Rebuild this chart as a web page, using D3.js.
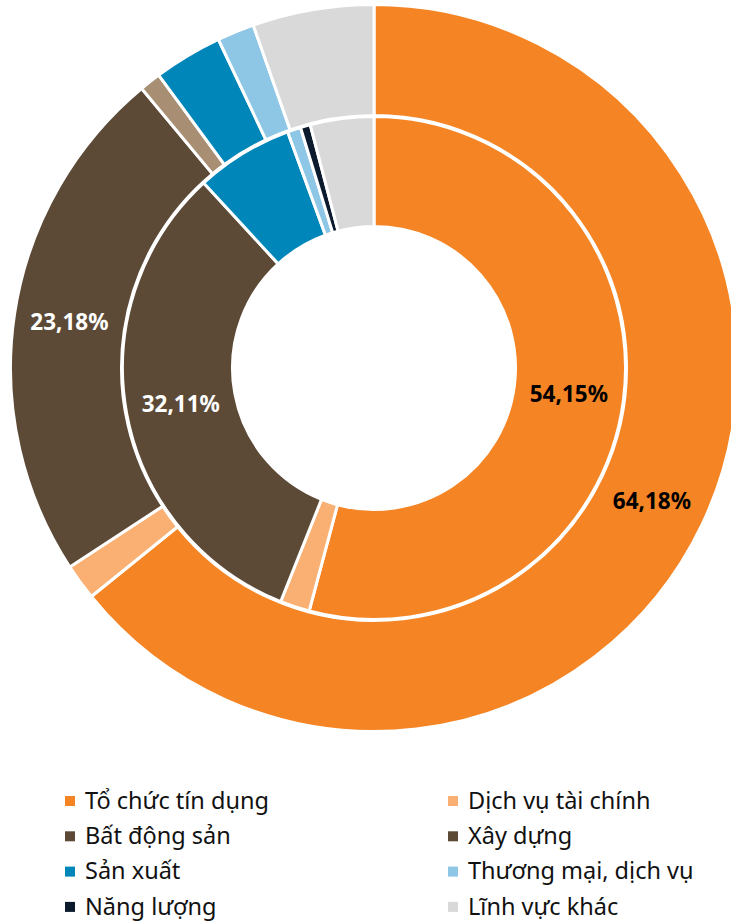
<!DOCTYPE html>
<html>
<head>
<meta charset="utf-8">
<script src="https://cdn.jsdelivr.net/npm/d3@7"></script>
<style>
  body { margin: 0; background: #fff; }
  svg { display: block; font-family: "Noto Sans", "Open Sans", sans-serif; }
</style>
</head>
<body>
<div id="area"></div>
<script>
// categories, in legend order
var categories = ["Tổ chức tín dụng", "Dịch vụ tài chính", "Bất động sản", "Xây dựng",
    "Sản xuất", "Thương mại, dịch vụ", "Năng lượng", "Lĩnh vực khác"];
// outer ring and inner ring shares (%)
var outerValues = [64.18, 1.60, 23.18, 0.95, 3.05, 1.65, 0, 5.39];
var innerValues = [54.15, 1.90, 32.11, 0, 6.26, 0.86, 0.64, 4.08];
var sliceColors = ["#F48424", "#F9B072", "#5C4A37", "#A88F74", "#0086B9", "#8EC6E6", "#0B1A2C", "#D9D9D9"];
var legendColors = ["#F48424", "#F9B072", "#5C4A37", "#5C4A37", "#0086B9", "#8EC6E6", "#0B1A2C", "#D9D9D9"];

var width = 731, height = 922;
var cx = 374, cy = 368;

var svg = d3.select("#area")
    .append("svg")
    .attr("width", width)
    .attr("height", height);

var pie = d3.pie().sort(null).value(function (d) { return d; });

function ring(values, r0, r1, cls) {
    var arc = d3.arc().innerRadius(r0).outerRadius(r1);
    var g = svg.append("g")
        .attr("class", cls)
        .attr("transform", "translate(" + cx + "," + cy + ")");
    var slices = pie(values).map(function (d, i) { d.idx = i; return d; })
        .filter(function (d) { return d.value > 0; });
    g.selectAll("path")
        .data(slices)
        .enter().append("path")
        .attr("d", arc)
        .attr("fill", function (d) { return sliceColors[d.idx]; })
        .attr("stroke", "#fff")
        .attr("stroke-width", 3)
        .attr("stroke-linejoin", "miter");
    // only big slices get a label
    g.selectAll("text")
        .data(slices.filter(function (d) { return d.value > 20; }))
        .enter().append("text")
        .attr("transform", function (d) { return "translate(" + arc.centroid(d) + ")"; })
        .attr("text-anchor", "middle")
        .attr("dy", "0.36em")
        .attr("font-size", 22.5)
        .attr("font-weight", "bold")
        .attr("fill", function (d) { return d.idx == 0 ? "#000" : "#fff"; })
        .text(function (d) { return d.value.toFixed(2).replace(".", ",") + "%"; });
}

ring(outerValues, 252.5, 363.5, "outer");
ring(innerValues, 141.5, 251.5, "inner");

// legend, two columns
var legend = svg.append("g");
var colX = [65, 448], rowY = 801, rowGap = 35.3;
var items = legend.selectAll("g")
    .data(categories)
    .enter().append("g")
    .attr("transform", function (d, i) {
        return "translate(" + colX[i % 2] + "," + (rowY + Math.floor(i / 2) * rowGap) + ")";
    });
items.append("rect")
    .attr("x", 0).attr("y", -5)
    .attr("width", 10).attr("height", 10)
    .attr("fill", function (d, i) { return legendColors[i]; });
items.append("text")
    .attr("x", 20)
    .attr("dy", "0.33em")
    .attr("font-size", 23.5)
    .attr("fill", "#111")
    .text(function (d) { return d; });
</script>
</body>
</html>
